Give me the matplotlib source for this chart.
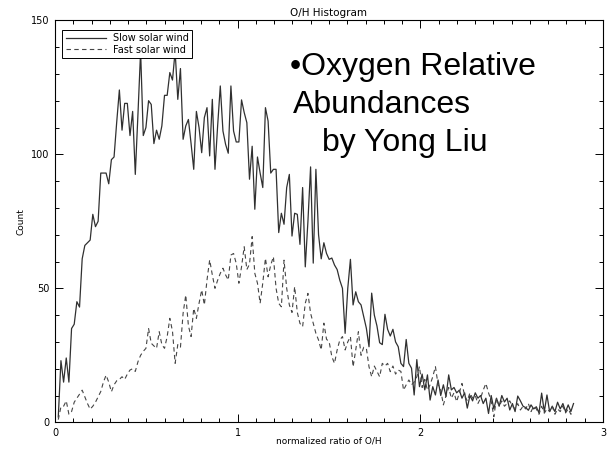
import numpy as np
import matplotlib
matplotlib.use("Agg")
import matplotlib.pyplot as plt
from matplotlib.ticker import MultipleLocator

# histogram bins (bin centres, normalized O/H)
X0 = 0.018
BIN = 0.01454

slow = [
    2, 23, 15, 24, 15, 35, 36.6, 45, 43, 61,
    66, 67, 68, 77.6, 73, 75, 93, 93, 93, 89,
    98, 99, 112, 124, 109, 119, 119, 107, 116, 92.5,
    115, 138.5, 107, 110, 120, 118.6, 104, 109, 105.6, 110.6,
    122, 122, 130.5, 127.7, 138.5, 120.5, 132, 105.6, 110.6, 113,
    104, 94.4, 116, 110, 100.6, 113.7, 117.4, 99.4, 120.5, 94.4,
    110.6, 125.5, 108.7, 103.7, 100.4, 125.5, 108.7, 104.6, 104.6, 120.3,
    115.6, 111.8, 90.7, 103, 79.5, 99, 93, 87.6, 117.4, 112.4,
    93, 94.4, 94.4, 70.8, 78, 73.9, 87.6, 92.5, 69.5, 78,
    77.6, 66.4, 87.6, 58, 75, 95.3, 59.4, 94.4, 70, 61,
    67, 63, 60.8, 61.3, 58.7, 57, 53, 50, 33.2, 50,
    60.8, 43.8, 48.7, 45, 43.8, 39.4, 35.1, 28.2, 48.2, 40,
    35.9, 29.7, 29, 40.3, 34.7, 32.2, 34.7, 30, 28.2, 22,
    20.8, 30.9, 22, 20.2, 10.2, 23.4, 13.3, 18, 12.1, 17.7,
    8.3, 13.3, 10.2, 15.8, 10, 14, 9.6, 17.7, 12.1, 13,
    11, 12, 9, 11, 5.3, 10, 8, 11, 9, 10,
    7, 9, 3.3, 10, 5, 9, 6, 10, 7.6, 9,
    4.6, 7, 4, 9.8, 8, 6, 5.5, 4.5, 6.5, 5,
    5.8, 3.5, 10.9, 4, 10.2, 4, 6, 4, 7.5, 5,
    7, 4, 6.5, 4, 7,
]

fast = [
    1, 5.8, 6, 8, 3, 4, 7.5, 9, 10.5, 12,
    9.5, 7, 4.9, 6, 7.5, 9.5, 11.5, 15, 17.6, 15,
    11.4, 14, 15.5, 16, 17, 16, 18, 19.5, 20, 19,
    22.6, 25, 26.5, 27.6, 35, 29.5, 28.5, 27.6, 33.8, 29,
    27.6, 32, 38.8, 34, 22, 29, 28, 40.7, 47.5, 36,
    32, 42.5, 38.8, 44.4, 49.4, 43.8, 53.1, 60.6, 55, 50,
    53, 55.6, 57.5, 55, 53.1, 62.4, 63, 59.3, 51.9, 58,
    65.5, 57, 59, 69.3, 55.6, 51.9, 44.4, 52, 61.2, 54.3,
    58.7, 61.8, 50, 44.4, 43.1, 60.5, 50, 43.8, 41, 50.6,
    41, 36.9, 35.7, 44.4, 48.1, 40.7, 36.9, 33.2, 30.7, 27,
    37, 31, 30, 24.5, 22, 27, 30.7, 32, 27, 30,
    32, 20.7, 27, 33.8, 25, 28, 27.6, 20.7, 17, 21,
    19, 17, 22, 21, 22, 18.9, 21, 18, 19.5, 19,
    12, 14, 15.8, 14, 15, 17, 20.8, 13, 16, 12,
    14, 17, 20.8, 14, 12, 6.5, 10, 13, 9, 11,
    7.7, 11, 14.5, 10, 8, 11, 9, 10, 7, 9,
    12, 14.5, 11, 8, 2.1, 9, 6, 8, 6, 7,
    8, 6, 5, 7, 4.6, 6, 5, 7, 4, 6,
    5, 3, 6, 3.4, 5, 4, 6, 3, 5, 4,
    6, 3.5, 5, 3, 4,
]

x_slow = X0 + BIN * np.arange(len(slow))
x_fast = X0 + BIN * np.arange(len(fast))

fig = plt.figure(figsize=(6.09, 4.51), dpi=100)
ax = fig.add_axes([0.0903, 0.0636, 0.8998, 0.8914])

ax.plot(x_slow, slow, color='#303030', lw=0.9, label='Slow solar wind')
ax.plot(x_fast, fast, color='#454545', lw=0.8, linestyle=(0, (4, 3)),
        label='Fast solar wind')

ax.set_xlim(0, 3)
ax.set_ylim(0, 150)
ax.xaxis.set_major_locator(MultipleLocator(1))
ax.xaxis.set_minor_locator(MultipleLocator(0.1))
ax.yaxis.set_major_locator(MultipleLocator(50))
ax.yaxis.set_minor_locator(MultipleLocator(10))
ax.tick_params(which='both', direction='in', top=True, right=True,
               labelsize=7, width=0.7, pad=4)
ax.tick_params(which='major', length=6)
ax.tick_params(which='minor', length=3)
for s in ax.spines.values():
    s.set_linewidth(0.8)

ax.set_title('O/H Histogram', fontsize=7.5, pad=3)
ax.set_xlabel('normalized ratio of O/H', fontsize=6.5, labelpad=-1)
ax.set_ylabel('Count', fontsize=6.5, labelpad=4)

leg = ax.legend(loc='upper left', fontsize=7, frameon=True, fancybox=False,
                edgecolor='black', framealpha=1, handlelength=4.2,
                borderpad=0.35, labelspacing=0.2, handletextpad=0.7,
                borderaxespad=0, bbox_to_anchor=(0.013, 0.977))
leg.get_frame().set_linewidth(0.7)

W, H = 609, 451
fam = ['Liberation Sans', 'DejaVu Sans']
fig.text(290 / W, 1 - 75 / H, '\u2022Oxygen Relative', fontsize=23,
         family=fam, va='baseline')
fig.text(293 / W, 1 - 113 / H, 'Abundances', fontsize=23,
         family=fam, va='baseline')
fig.text(322 / W, 1 - 151 / H, 'by Yong Liu', fontsize=23,
         family=fam, va='baseline')

fig.savefig('out.png', dpi=100)
